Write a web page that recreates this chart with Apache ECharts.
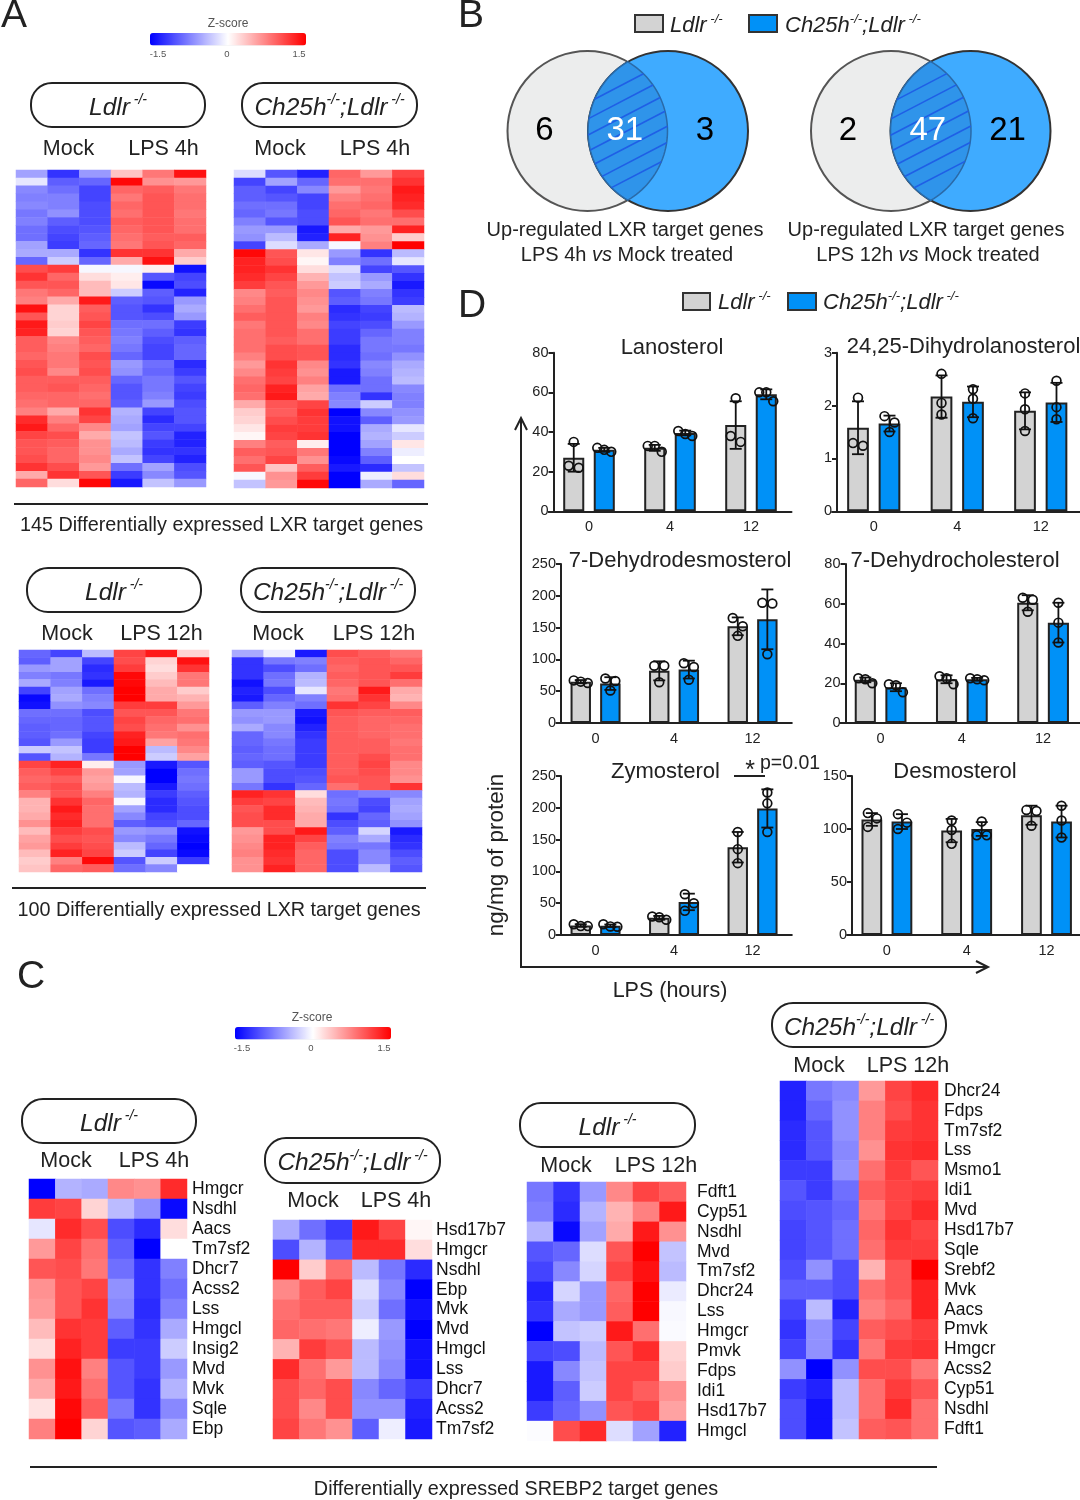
<!DOCTYPE html>
<html><head><meta charset="utf-8">
<style>html,body{margin:0;padding:0;background:#fff}#c{width:1080px;height:1500px}</style>
<script src="https://cdn.jsdelivr.net/npm/echarts@6/dist/echarts.min.js"></script>
</head><body><div id="c"></div>
<script>
// ---------- Panel A heatmap rows (z-scores, columns: Mock x3, LPS x3) ----------
const sampleColumns = ['Mock 1','Mock 2','Mock 3','LPS 1','LPS 2','LPS 3'];
const heatA4hLdlr = [
[-0.55,-1.2,-0.6,0.35,0.8,1.4],[-0.15,-0.95,-0.9,1.45,0.65,0.6],[-0.7,-0.85,-1.1,0.9,0.95,0.8],[-0.75,-0.75,-1.1,0.8,1.0,0.85],
[-0.7,-0.75,-1.05,0.9,1.0,0.85],[-0.8,-0.65,-1.05,0.85,1.0,0.8],[-0.75,-0.95,-1.05,0.95,1.0,0.85],[-0.85,-1.05,-1.0,0.9,1.0,0.85],
[-0.85,-1.1,-0.95,0.85,0.95,0.95],[-0.55,-1.15,-0.9,0.8,1.0,0.9],[-0.5,-0.5,-1.2,1.2,1.2,0.5],[-0.9,-0.3,-0.9,0.5,1.4,0.3],
[1.05,1.15,-0.05,-0.05,0.1,-1.4],[1.2,0.9,0.2,0.1,-1.0,-1.1],[1.0,1.0,0.4,0.15,-1.45,-1.05],[0.8,0.9,0.4,-0.3,-0.95,-1.3],
[0.75,0.5,1.35,-0.95,-1.0,-0.6],[1.4,0.25,0.95,-1.0,-1.2,-0.5],[1.0,0.25,1.0,-1.0,-1.05,-0.6],[1.35,0.3,1.1,-0.85,-0.85,-1.15],
[1.3,0.25,1.0,-0.8,-0.95,-1.2],[0.95,0.7,0.95,-0.75,-1.05,-0.95],[0.95,0.75,0.9,-0.8,-1.1,-0.9],[0.9,0.8,1.05,-0.9,-1.1,-0.9],
[1.0,0.8,1.0,-0.6,-0.85,-1.25],[1.05,0.7,1.05,-0.65,-0.9,-1.15],[0.95,0.95,0.95,-0.9,-0.8,-1.0],[0.95,1.0,0.9,-1.0,-0.8,-1.1],
[0.9,0.9,0.85,-1.0,-0.75,-1.15],[0.85,0.9,0.9,-0.95,-0.6,-1.05],[0.75,0.5,1.2,-0.45,-1.1,-1.0],[1.25,0.75,1.1,-0.5,-1.25,-1.0],
[1.35,0.9,0.7,-0.55,-1.1,-1.1],[1.1,1.05,0.5,-0.35,-1.0,-1.3],[1.0,0.95,0.65,-0.4,-1.15,-1.3],[1.0,0.9,0.65,-0.5,-1.2,-1.2],
[1.05,0.9,0.7,-0.35,-1.1,-1.3],[1.2,1.05,0.6,-0.85,-0.55,-1.05],[0.5,1.2,1.0,-1.15,-0.7,-1.0],[0.9,0.2,1.45,-1.35,-0.35,-0.6]];
const heatA4hDouble = [
[-0.2,-1.0,-1.3,0.9,0.6,1.1],[-1.1,-0.55,-0.9,0.85,0.85,1.2],[-0.95,-1.1,-0.7,0.6,0.8,1.35],[-0.95,-1.0,-1.1,0.75,0.85,1.3],
[-0.85,-0.85,-1.1,0.85,0.9,1.25],[-0.9,-0.8,-1.05,0.9,0.8,1.05],[-0.75,-1.0,-1.05,1.0,0.85,0.85],[-0.6,-0.6,-1.35,0.5,0.6,1.3],
[-0.65,-0.4,-1.3,1.3,0.65,0.3],[-1.1,-0.2,-0.5,-0.05,0.75,1.5],[1.45,1.0,0.15,-0.6,-1.2,-0.4],[1.3,1.05,0.05,-0.75,-0.85,-0.15],
[1.3,1.2,0.2,-0.2,-1.1,-1.0],[1.25,1.1,0.45,-0.35,-0.6,-1.2],[1.15,1.0,0.6,-0.3,-0.5,-1.35],[0.7,0.95,0.7,-1.0,-0.75,-1.2],
[0.75,1.0,0.65,-0.95,-0.8,-1.15],[0.85,1.0,0.6,-1.25,-1.1,-0.4],[0.95,1.0,0.75,-1.2,-1.15,-0.45],[0.8,1.0,0.7,-1.1,-1.05,-0.6],
[0.85,1.0,0.85,-1.15,-0.9,-0.75],[0.85,0.95,0.85,-1.15,-0.8,-0.75],[0.85,1.05,1.0,-1.25,-0.8,-0.8],[0.75,1.05,1.0,-1.25,-0.85,-0.65],
[0.6,1.2,0.7,-1.2,-0.7,-0.5],[0.7,1.15,0.65,-1.35,-0.75,-0.45],[0.85,1.1,0.75,-1.35,-0.85,-0.4],[0.9,1.3,0.55,-0.85,-0.85,-0.7],
[0.85,1.35,0.5,-0.75,-1.2,-0.75],[0.5,1.0,1.1,-0.7,-0.3,-0.75],[0.3,0.95,1.2,-1.5,-0.7,-0.65],[0.25,1.05,1.15,-1.4,-0.95,-0.6],
[0.15,1.15,1.15,-1.4,-0.5,-0.15],[0.05,1.1,1.2,-1.5,-0.45,-0.3],[0.75,0.95,0.1,-1.5,-0.55,0.15],[0.95,1.0,0.8,-1.5,-0.75,-0.1],
[0.85,1.1,0.65,-1.45,-0.95,0.0],[1.0,0.35,0.95,-1.35,-1.25,-0.35],[-0.05,0.65,1.15,-1.5,-0.1,0.2],[-0.35,0.6,1.45,-1.5,-0.5,-0.9]];
const heatA12hLdlr = [
[-0.9,-1.1,-0.4,1.1,1.35,0.25],[-0.95,-0.55,-1.1,1.05,0.25,1.4],[-0.6,-0.55,-1.25,1.15,0.2,1.2],[-0.75,-0.8,-1.2,1.45,0.3,0.8],
[-0.5,-0.75,-1.35,1.45,0.4,0.8],[-1.1,-0.55,-0.85,1.5,0.5,0.3],[-1.45,-0.5,-0.75,1.5,0.5,0.45],[-1.4,-0.65,-0.7,1.15,1.15,0.6],
[-0.85,-0.85,-1.05,1.0,1.0,0.8],[-0.9,-0.9,-1.0,1.1,0.9,0.85],[-0.95,-0.9,-1.0,1.05,0.85,0.65],[-0.95,-0.85,-1.1,1.3,0.8,0.85],
[-1.0,-0.6,-1.15,1.35,0.55,0.8],[-0.3,-0.35,-1.15,1.5,-0.4,0.7],[-1.0,-0.45,-0.8,1.5,-0.3,0.55],[1.1,1.3,0.1,-0.6,-1.35,-1.0],
[0.95,1.1,0.6,-0.55,-1.5,-0.85],[0.9,0.95,0.55,-0.05,-1.5,-0.8],[0.95,1.05,0.6,-0.4,-1.35,-0.85],[0.75,1.0,0.75,-0.45,-1.15,-0.95],
[0.45,1.2,0.9,-0.05,-1.25,-1.0],[0.45,1.35,0.85,-0.55,-1.25,-1.05],[0.5,1.25,0.85,-0.7,-1.1,-1.05],[0.65,1.3,0.85,-0.95,-1.05,-0.9],
[0.4,1.15,1.05,-0.6,-0.65,-1.4],[0.55,1.05,1.0,-0.7,-0.8,-1.45],[0.6,1.15,1.05,-0.4,-0.9,-1.5],[0.4,1.3,1.1,-0.3,-1.1,-1.45],
[0.3,0.75,1.45,-1.0,-0.3,-1.15],[0.35,0.9,0.95,-0.85,-0.7,0.0]];
const heatA12hDouble = [
[-0.5,-0.1,-1.35,1.05,0.95,0.8],[-1.2,-0.8,-0.75,0.95,1.0,0.9],[-1.2,-1.05,-0.85,0.9,1.0,1.0],[-1.2,-0.85,-0.45,0.95,1.0,1.15],
[-1.4,-0.8,-0.4,0.9,1.0,0.85],[-1.3,-1.05,-0.15,0.8,1.35,0.5],[-1.35,-0.9,-0.75,0.85,1.2,0.45],[-0.95,-0.75,-0.85,1.2,1.1,0.7],
[-0.6,-0.6,-1.35,1.0,0.95,0.95],[-0.65,-0.6,-1.4,0.95,0.9,0.9],[-0.5,-0.7,-1.3,0.95,0.9,0.85],[-0.9,-0.7,-1.2,0.95,0.9,0.85],
[-0.9,-0.8,-1.15,0.95,0.95,0.8],[-0.95,-0.85,-1.15,0.95,0.95,0.85],[-0.9,-0.85,-1.15,0.95,1.05,0.85],[-0.95,-1.0,-1.15,0.95,1.1,0.7],
[-0.6,-1.05,-1.05,0.95,1.05,0.7],[-0.6,-1.05,-1.0,1.0,1.0,0.65],[-0.8,-1.2,-0.9,0.85,1.0,1.2],[1.3,1.2,0.2,-0.85,-0.75,-0.7],
[1.15,1.1,0.4,-0.8,-1.05,-0.55],[1.0,1.25,0.45,-0.85,-1.1,-0.5],[1.05,1.25,0.5,-1.2,-0.9,-0.55],[1.05,1.05,0.5,-1.05,-0.95,-0.65],
[0.6,1.05,1.35,-0.95,-0.25,-1.35],[0.65,1.3,1.1,-0.75,-0.5,-1.25],[0.7,1.3,0.95,-0.8,-0.8,-1.2],[0.75,1.25,0.9,-1.05,-0.7,-1.05],
[0.65,1.2,0.9,-1.05,-0.7,-0.95],[0.65,1.3,0.9,-1.05,-0.4,-1.0]];

// ---------- Panel C heatmaps ----------
const genesC4hLdlr = ['Hmgcr','Nsdhl','Aacs','Tm7sf2','Dhcr7','Acss2','Lss','Hmgcl','Insig2','Mvd','Mvk','Sqle','Ebp'];
const heatC4hLdlr = [
[-1.5,-0.45,-0.5,0.7,0.65,1.25],[1.15,1.1,0.25,-0.4,-0.65,-1.45],[-0.15,1.25,1.05,-1.05,-1.25,0.2],[0.6,1.1,0.85,-0.95,-1.5,0],
[1.0,1.05,0.8,-0.85,-1.2,-0.75],[0.65,1.0,1.1,-0.65,-1.2,-0.85],[0.6,1.0,1.2,-0.7,-1.25,-0.75],[0.4,1.2,1.15,-0.95,-1.2,-0.5],
[0.2,1.3,1.15,-1.15,-1.15,-0.3],[0.65,1.4,0.75,-1.0,-1.15,-0.6],[0.5,1.35,0.85,-1.0,-1.2,-0.45],[0.17,1.45,0.95,-0.8,-1.2,-0.7],
[0.75,1.5,0.25,-1.0,-0.95,-0.5]];
const genesC4hDouble = ['Hsd17b7','Hmgcr','Nsdhl','Ebp','Mvk','Mvd','Hmgcl','Lss','Dhcr7','Acss2','Tm7sf2'];
const heatC4hDouble = [
[-0.5,-0.85,-1.15,1.35,1.1,0.05],[-1.05,-0.45,-0.95,1.25,1.25,0.2],[1.5,0.3,0.85,-0.4,-0.8,-1.25],[0.7,0.95,1.1,-0.2,-0.7,-1.5],
[0.85,0.95,0.95,-0.3,-0.85,-1.4],[0.9,0.85,0.8,-0.1,-0.6,-1.5],[0.45,1.15,1.0,-0.4,-0.65,-1.4],[1.25,0.85,0.6,-0.4,-0.7,-1.4],
[1.05,0.9,1.05,-0.7,-0.9,-1.15],[1.05,0.7,1.05,-0.65,-0.65,-1.3],[1.1,0.8,0.65,-0.95,-0.1,-1.35]];
const genesC12hLdlr = ['Fdft1','Cyp51','Nsdhl','Mvd','Tm7sf2','Dhcr24','Lss','Hmgcr','Pmvk','Fdps','Idi1','Hsd17b7','Hmgcl'];
const heatC12hLdlr = [
[-0.8,-1.2,-0.6,0.7,1.1,0.95],[-0.75,-1.25,-0.45,0.45,0.75,1.35],[-0.45,-1.45,-0.55,0.5,1.35,0.65],[-1.0,-0.9,-0.2,1.0,1.5,-0.35],
[-1.1,-0.7,-0.25,1.1,1.4,-0.4],[-1.3,-0.25,-0.6,0.9,1.5,-0.12],[-1.2,-0.5,-0.6,0.95,1.5,-0.04],[-1.5,-0.35,-0.3,1.35,0.85,-0.03],
[-1.1,-1.05,-0.4,1.0,1.25,0.25],[-1.35,-0.7,-0.35,1.1,1.1,0.3],[-1.35,-0.95,-0.3,1.1,0.95,0.65],[-1.15,-0.9,-0.65,1.0,1.1,0.55],
[-0.02,1.05,1.25,-0.2,-0.55,-1.3]];
const genesC12hDouble = ['Dhcr24','Fdps','Tm7sf2','Lss','Msmo1','Idi1','Mvd','Hsd17b7','Sqle','Srebf2','Mvk','Aacs','Pmvk','Hmgcr','Acss2','Cyp51','Nsdhl','Fdft1'];
const heatC12hDouble = [
[-1.3,-0.8,-0.7,0.6,1.1,1.25],[-1.3,-0.9,-0.65,0.75,1.05,1.2],[-1.25,-1.0,-0.65,0.75,1.15,1.2],[-1.25,-1.0,-0.7,0.65,1.2,1.25],
[-1.15,-1.15,-0.65,0.85,1.15,1.0],[-1.0,-1.15,-0.85,0.95,1.1,1.15],[-1.05,-1.0,-0.9,0.8,1.1,1.25],[-1.1,-1.0,-0.85,0.9,1.2,1.1],
[-1.1,-1.0,-0.85,0.85,1.15,1.15],[-1.05,-0.65,-1.05,0.45,1.0,1.5],[-0.95,-0.95,-1.05,0.85,1.0,1.3],[-1.1,-0.4,-1.3,0.75,0.9,1.3],
[-1.2,-0.65,-1.1,0.95,1.05,1.15],[-1.1,-0.65,-1.2,0.8,1.15,1.2],[-0.65,-1.5,-0.65,1.05,1.05,0.8],[-1.15,-1.3,-0.4,0.85,1.15,1.0],
[-1.05,-1.4,-0.4,0.85,1.25,0.85],[-1.05,-1.4,-0.35,0.95,1.0,0.85]];

// ---------- Panel B ----------
const vennCounts4h = [6, 31, 3];
const vennCounts12h = [2, 47, 21];

// ---------- Panel D: LPS hours and sterols (ng/mg of protein) ----------
const lpsHours = ['0','4','12'];
const lanosterolMean = [[27,32,43.5],[31,39.5,59]];
const lanosterolSD = [[7,1.5,12],[1,1.2,2.5]];
const lanosterolPoints = [[[35,22,23],[33,33,30],[57,35,38]],[[32,30,31],[40.5,38,39],[60,60,55.5]]];
const dihydrolanosterolMean = [[1.58,2.17,1.9],[1.66,2.07,2.06]];
const dihydrolanosterolSD = [[0.5,0.4,0.35],[0.15,0.29,0.37]];
const dihydrolanosterolPoints = [[[2.15,1.24,1.29],[2.6,2.05,1.83],[2.23,1.93,1.52]],[[1.8,1.5,1.68],[2.31,2.13,1.76],[2.47,1.97,1.74]]];
const dehydrodesmosterolMean = [[65,82,152],[62,84,163]];
const dehydrodesmosterolSD = [[2.5,15,14],[10,14,47]];
const dehydrodesmosterolPoints = [[[67,63,65],[90,90,64],[165,152,137]],[[70,66,51],[94,88,68],[188,189,108]]];
const dehydrocholesterolMean = [[21.7,22,60.5],[18,22,50.5]];
const dehydrocholesterolSD = [[1.2,2,3.8],[2,0.7,10]];
const dehydrocholesterolPoints = [[[22.5,22,20],[23.5,22.5,19.5],[63,62,56]],[[19.5,19,15.5],[22.5,22,21.5],[60.5,50.5,40.5]]];
const zymosterolMean = [[15,27,138],[14.5,52,199]];
const zymosterolSD = [[2,3,24],[2,13,30]];
const zymosterolPoints = [[[17,14,14],[29,28,24],[162,135,113]],[[17,13,13.5],[64,50,38],[224,207,162]]];
const desmosterolMean = [[109,98.5,113],[107,100,107]];
const desmosterolSD = [[6,11,9],[7,6.5,15]];
const desmosterolPoints = [[[115,110,102],[108,99,86],[118,117,103]],[[114,106,100],[107,94,94],[122,108,92]]];

// ---------- Build ----------
const FONT = '"Liberation Sans", Arial, sans-serif';
const INK = '#222', GREY = '#d3d3d3', BLUE = '#0091f7';
const grid = [], xAxis = [], yAxis = [], series = [], title = [];

function addHeat(rows, rowNames, box, labelMargin) {
  const i = grid.length;
  grid.push({left: box[0], top: box[1], width: box[2]-box[0], height: box[3]-box[1], containLabel: false, outerBoundsMode:'none'});
  xAxis.push({type:'category', gridIndex:i, data:sampleColumns, show:false});
  yAxis.push({type:'category', gridIndex:i, data:rowNames || rows.map((_,k)=>String(k+1)), inverse:true, position:'right',
    axisLine:{show:false}, axisTick:{show:false}, splitLine:{show:false},
    axisLabel:{show:!!rowNames, interval:0, fontFamily:FONT, fontSize:17.5, color:'#111', margin:labelMargin||5, padding:[2,0,0,0]}});
  const data = [];
  rows.forEach((r,y)=>r.forEach((v,x)=>data.push([x,y,v])));
  series.push({type:'heatmap', xAxisIndex:i, yAxisIndex:i, data, silent:true, itemStyle:{borderWidth:0}});
}
addHeat(heatA4hLdlr, null, [16,170,206,487]);
addHeat(heatA4hDouble, null, [234,170,424,488]);
addHeat(heatA12hLdlr, null, [19,650,209,872]);
addHeat(heatA12hDouble, null, [232,650,422,872]);
addHeat(heatC4hLdlr, genesC4hLdlr, [29,1179,187,1439], 5);
addHeat(heatC4hDouble, genesC4hDouble, [273,1220,432,1439], 4);
addHeat(heatC12hLdlr, genesC12hLdlr, [527,1182,686,1441], 11);
addHeat(heatC12hDouble, genesC12hDouble, [780,1081,938,1439], 6);

function swarm(pixels) {
  // open circles side-step when they would overlap, as in a scatter-dot bar plot
  const order = pixels.map((p,i)=>[p,i]).sort((a,b)=>a[0]-b[0]);
  const off = [0,0,0], near = 9.5;
  const a = order[1][0]-order[0][0] < near, b = order[2][0]-order[1][0] < near;
  if (a && b) {
    if (order[2][0]-order[0][0] < near) { off[order[0][1]]=-7; off[order[1][1]]=0; off[order[2][1]]=7; }
    else { off[order[0][1]]=-4; off[order[1][1]]=5; off[order[2][1]]=-4; }
  } else if (a) { off[order[0][1]]=-5; off[order[1][1]]=5; }
  else if (b) { off[order[1][1]]=-5; off[order[2][1]]=5; }
  return off;
}
function renderErr(params, api) {
  const c = api.value(0), g = api.value(1), m = api.value(2), sd = api.value(3);
  const pts = [api.value(4), api.value(5), api.value(6)];
  const xc = api.coord([c,0])[0] + (g ? 1 : -1) * api.size([1,0])[0] * 0.1885;
  const py = v => api.coord([c,v])[1];
  const line = {stroke:'#111', lineWidth:1.8};
  const yHi = py(m+sd), yLo = py(m-sd);
  const kids = [
    {type:'line', shape:{x1:xc,y1:yHi,x2:xc,y2:yLo}, style:line},
    {type:'line', shape:{x1:xc-6,y1:yHi,x2:xc+6,y2:yHi}, style:line},
    {type:'line', shape:{x1:xc-6,y1:yLo,x2:xc+6,y2:yLo}, style:line}];
  const ys = pts.map(py), off = swarm(ys);
  ys.forEach((y,i)=>kids.push({type:'circle', shape:{cx:xc+off[i],cy:y,r:4.4}, style:{fill:'transparent',stroke:'#111',lineWidth:1.7}}));
  return {type:'group', children:kids};
}
function addBars(name, mean, sd, pts, gridLeft, bandTotal, axisX, top, bottom, yMax, yStep, titleX, titleY) {
  const i = grid.length;
  grid.push({left:gridLeft, top, width:bandTotal, height:bottom-top, outerBoundsMode:'none'});
  const axisStyle = {lineStyle:{color:INK,width:2}};
  xAxis.push({type:'category', gridIndex:i, data:lpsHours, axisLine:{...axisStyle,onZero:false},
    axisTick:{...axisStyle,length:5,alignWithLabel:true}, axisLabel:{fontFamily:FONT,fontSize:14.5,color:INK,margin:8}, splitLine:{show:false}});
  yAxis.push({type:'value', gridIndex:i, min:0, max:yMax, interval:yStep, offset:gridLeft-axisX, axisLine:{show:true,...axisStyle},
    axisTick:{show:true,...axisStyle,length:5}, axisLabel:{fontFamily:FONT,fontSize:14.5,color:INK,margin:5}, splitLine:{show:false}});
  [0,1].forEach(g=>series.push({type:'bar', name:g?'Ch25h-/-;Ldlr-/-':'Ldlr-/-', xAxisIndex:i, yAxisIndex:i, data:mean[g], barWidth:'26%', barGap:'45%', silent:true,
    itemStyle:{color:g?BLUE:GREY, borderColor:INK, borderWidth:2}}));
  const rows = [];
  [0,1].forEach(g=>mean[g].forEach((m,c)=>rows.push([c,g,m,sd[g][c],...pts[g][c]])));
  series.push({type:'custom', xAxisIndex:i, yAxisIndex:i, data:rows, encode:{x:0,y:2}, renderItem:renderErr, silent:true, clip:false, z:5});
  title.push({text:name, left:titleX, top:titleY-10, padding:0, textAlign:'center', textStyle:{fontFamily:FONT,fontSize:22,fontWeight:'normal',color:INK}});
}
addBars('Lanosterol', lanosterolMean, lanosterolSD, lanosterolPoints, 548.5, 243, 553.5, 352.7, 511.3, 80, 20, 672, 347);
addBars('24,25-Dihydrolanosterol', dihydrolanosterolMean, dihydrolanosterolSD, dihydrolanosterolPoints, 832, 250.5, 837, 352.7, 511.3, 3, 1, 963.5, 346);
addBars('7-Dehydrodesmosterol', dehydrodesmosterolMean, dehydrodesmosterolSD, dehydrodesmosterolPoints, 556.3, 235.5, 561, 564, 723, 250, 50, 680, 560);
addBars('7-Dehydrocholesterol', dehydrocholesterolMean, dehydrocholesterolSD, dehydrocholesterolPoints, 840, 243.7, 845.5, 564, 723, 80, 20, 955, 560);
addBars('Zymosterol', zymosterolMean, zymosterolSD, zymosterolPoints, 556.3, 235.5, 561, 776, 935, 250, 50, 665.5, 771);
addBars('Desmosterol', desmosterolMean, desmosterolSD, desmosterolPoints, 847, 239.4, 852, 776, 935, 150, 50, 955, 771);

// ---------- Graphic annotations ----------
const el = [];
function txt(text, x, y, size, extra) {
  el.push({type:'text', x, y, z:20, style:Object.assign({text, fontFamily:FONT, fontSize:size, fill:INK,
    align:'center', verticalAlign:'middle', textAlign:'center', textVerticalAlign:'middle'}, extra||{})});
}
function richStyles(size, sup) {
  return {i:{fontFamily:FONT,fontStyle:'italic',fontSize:size,fill:INK,lineHeight:size*1.2},
          s:{fontFamily:FONT,fontStyle:'italic',fontSize:sup,fill:INK,verticalAlign:'top',lineHeight:size*1.2},
          n:{fontFamily:FONT,fontSize:size,fill:INK,lineHeight:size*1.2}};
}
const LDLR = '{i|Ldlr}{s| -/-}', DOUBLE = '{i|Ch25h}{s|-/-}{i|;Ldlr}{s| -/-}';
function genoLabel(str, x, y, size, sup, align) {
  txt(str, x, y, size, {rich:richStyles(size,sup), align:align||'center', textAlign:align||'center'});
}
function pill(x1,y1,x2,y2,str) {
  el.push({type:'rect', z:19, shape:{x:x1,y:y1,width:x2-x1,height:y2-y1,r:21}, style:{fill:'transparent',stroke:INK,lineWidth:2}});
  genoLabel(str,(x1+x2)/2,(y1+y2)/2+3,24.5,14);
}
function rule(x1,x2,y,w) { el.push({type:'line', z:19, shape:{x1,y1:y,x2,y2:y}, style:{stroke:INK,lineWidth:w||2}}); }
function swatch(x1,x2,y1,y2,fill) { el.push({type:'rect', z:19, shape:{x:x1,y:y1,width:x2-x1,height:y2-y1}, style:{fill,stroke:'#333',lineWidth:2}}); }

// panel letters
txt('A',14,16,39); txt('B',471,16,39); txt('C',31,977,39); txt('D',472,306,39);

// colour-bar captions
[[228,24,158,227,299,54],[312,1018,242,311,384,1048]].forEach(p=>{
  txt('Z-score',p[0],p[1],12,{fill:'#555'});
  txt('-1.5',p[2],p[5],9.5,{fill:'#555'}); txt('0',p[3],p[5],9.5,{fill:'#555'}); txt('1.5',p[4],p[5],9.5,{fill:'#555'});
});

// panel A
pill(31,83,205,127,LDLR); pill(242,83,417,127,DOUBLE);
txt('Mock',68.5,149,21.5); txt('LPS 4h',163.5,149,21.5); txt('Mock',280,149,21.5); txt('LPS 4h',375,149,21.5);
rule(14,428,504); txt('145 Differentially expressed LXR target genes',221.5,526,19.8);
pill(27,568,201,612,LDLR); pill(241,568,415,612,DOUBLE);
txt('Mock',67,634,21.5); txt('LPS 12h',161.5,634,21.5); txt('Mock',278,634,21.5); txt('LPS 12h',374,634,21.5);
rule(12,426,888); txt('100 Differentially expressed LXR target genes',219,911,19.8);

// panel C
pill(22,1099,196,1143,LDLR); pill(265,1138,440,1183,DOUBLE); pill(520,1103,695,1147,LDLR); pill(772,1003,946,1047,DOUBLE);
txt('Mock',66,1161,21.5); txt('LPS 4h',154,1161,21.5); txt('Mock',313,1201,21.5); txt('LPS 4h',396,1201,21.5);
txt('Mock',566,1166,21.5); txt('LPS 12h',656,1166,21.5); txt('Mock',819,1066,21.5); txt('LPS 12h',908,1066,21.5);
rule(30,937,1467); txt('Differentially expressed SREBP2 target genes',516,1490,19.8);

// panel B legend + Venns
swatch(635,663,15,32,GREY); genoLabel(LDLR,670,26,22,13,'left');
swatch(749,777,15,32,BLUE); genoLabel(DOUBLE,785,26,22,13,'left');
function venn(c1, c2, counts) {
  const cy = 131, r = 80, d = c2-c1, h = Math.sqrt(r*r-d*d/4), mx = (c1+c2)/2;
  el.push({type:'circle', z:10, shape:{cx:c1,cy,r}, style:{fill:'#eceded',stroke:'#555',lineWidth:2}});
  el.push({type:'circle', z:11, shape:{cx:c2,cy,r}, style:{fill:'#3fabff',stroke:'#333',lineWidth:2}});
  const a0 = Math.asin(h/r), lens = [];
  for (let k=0;k<=48;k++) { const t = -a0+2*a0*k/48; lens.push([c1+r*Math.cos(t), cy+r*Math.sin(t)]); }
  for (let k=0;k<=48;k++) { const t = a0-2*a0*k/48; lens.push([c2-r*Math.cos(t), cy+r*Math.sin(t)]); }
  el.push({type:'polygon', z:12, shape:{points:lens}, style:{fill:'#2f94ea',stroke:'#2a6aa8',lineWidth:1.5}});
  const slope = -0.52;
  const span = (cx, c) => { // line y = slope*(x-mx)+c against a circle
    const q = c-slope*mx-cy, A = 1+slope*slope, B = 2*(slope*q-cx), C = cx*cx+q*q-r*r, D = B*B-4*A*C;
    if (D<=0) return null;
    return [(-B-Math.sqrt(D))/(2*A), (-B+Math.sqrt(D))/(2*A)];
  };
  for (let k=0;k<7;k++) {
    const c = 82+16.2*k, s1 = span(c1,c), s2 = span(c2,c);
    if(!s1||!s2) continue;
    const a = Math.max(s1[0],s2[0]), b = Math.min(s1[1],s2[1]);
    if (b<=a) continue;
    el.push({type:'line', z:13, shape:{x1:a,y1:slope*(a-mx)+c,x2:b,y2:slope*(b-mx)+c}, style:{stroke:'#1f5fe6',lineWidth:1.6}});
  }
  txt(String(counts[0]),c1-43,131,33,{fill:'#000'});
  txt(String(counts[1]),mx-3,131,33,{fill:'#fff'});
  txt(String(counts[2]),c2+37,131,33,{fill:'#000'});
}
venn(587.5,668,vennCounts4h); venn(891,970.5,vennCounts12h);
txt('Up-regulated LXR target genes',625,230.5,20); 
txt('{n|LPS 4h }{i|vs}{n| Mock treated}',627,255,20,{rich:richStyles(20,12)});
txt('Up-regulated LXR target genes',926,230.5,20);
txt('{n|LPS 12h }{i|vs}{n| Mock treated}',928,255,20,{rich:richStyles(20,12)});

// panel D legend, arrows, labels
swatch(683,710,293,310,GREY); genoLabel(LDLR,718,303,22,13,'left');
swatch(788,816,293,310,BLUE); genoLabel(DOUBLE,823,303,22,13,'left');
const arrow = {stroke:INK,lineWidth:2,fill:'none'};
el.push({type:'polyline', z:19, shape:{points:[[988,967],[521,967],[521,419]]}, style:arrow});
el.push({type:'polyline', z:19, shape:{points:[[515,430],[521,418],[527,430]]}, style:arrow});
el.push({type:'polyline', z:19, shape:{points:[[976,961],[988,967],[976,973]]}, style:arrow});
el.push({type:'text', z:20, x:497, y:855, rotation:Math.PI/2, style:{text:'ng/mg of protein',fontFamily:FONT,fontSize:22.5,fill:INK,align:'center',verticalAlign:'middle',textAlign:'center',textVerticalAlign:'middle'}});
txt('LPS (hours)',670,991.5,21.5);
rule(734,765,776); txt('*',750,771,25); txt('p=0.01',790,763.5,19.5);

const heatStyle = {type:'continuous', min:-1.5, max:1.5, calculable:false, orient:'horizontal', dimension:2, itemWidth:12.5, itemHeight:156,
  text:null, showLabel:false, padding:0, inRange:{color:['#0000ff','#ffffff','#ff0000']}};
const option = {
  animation:false, backgroundColor:'#fff', textStyle:{fontFamily:FONT},
  title, grid, xAxis, yAxis, series,
  visualMap:[Object.assign({},heatStyle,{seriesIndex:[0,1,2,3],left:150,top:33}), Object.assign({},heatStyle,{seriesIndex:[4,5,6,7],left:235,top:1027})],
  graphic:{elements:el}
};
echarts.init(document.getElementById('c'),null,{renderer:'canvas',width:1080,height:1500}).setOption(option);
</script></body></html>
